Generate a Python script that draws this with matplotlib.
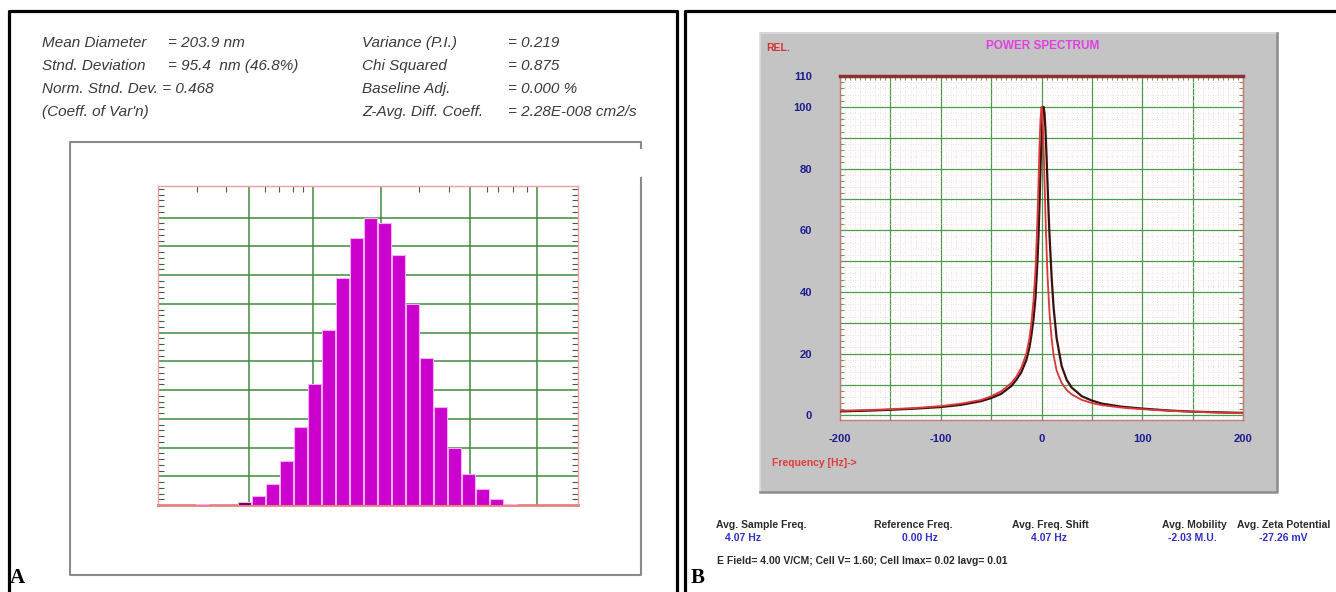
import matplotlib
matplotlib.use("Agg")
import matplotlib.pyplot as plt
from matplotlib.patches import Rectangle
from matplotlib.ticker import FixedLocator, MultipleLocator

W, H = 1336, 592

# --- panel A: summary text
info_left = ["Mean Diameter", "Stnd. Deviation", "Norm. Stnd. Dev. = 0.468", "(Coeff. of Var'n)"]
info_left_vals = ["= 203.9 nm", "= 95.4  nm (46.8%)", "", ""]
info_right = ["Variance (P.I.)", "Chi Squared", "Baseline Adj.", "Z-Avg. Diff. Coeff."]
info_right_vals = ["= 0.219", "= 0.875", "= 0.000 %", "= 2.28E-008 cm2/s"]

# --- panel A: size distribution (bin index, relative intensity)
bins = list(range(-3, 20))
counts = [0.4, 0, 0, 1.0, 3.3, 7.4, 15.2, 27, 42, 61, 79, 93, 100, 98, 87,
          70, 51, 34, 20, 10.7, 5.4, 2.1, 0.5]
hist_grid_x = [0.33, 4.93, 9.76, 16.12, 20.88]
hist_top_ticks = [-3.4, -1.3, 1.5, 2.5, 3.5, 4.2, 12.5, 14.6, 17.3, 18.1, 19.2, 20.2]

# --- panel B: power spectrum (Hz, relative)
freq_red = [-200, -175, -150, -125, -100, -80, -60, -50, -40, -30, -25, -20, -15, -12,
            -10, -8, -6, -5, -4, -3, -2, -1, 0, 1, 2, 3, 4, 5, 6, 8, 10, 12, 15, 20,
            25, 30, 40, 50, 60, 80, 100, 125, 150, 175, 200]
rel_red = [1.5, 1.7, 2.0, 2.4, 3.0, 3.8, 5.0, 6.2, 7.8, 10.5, 12.5, 15.5, 20, 25,
           30, 37, 47, 55, 64, 75, 87, 96, 100, 97, 88, 76, 64, 54, 45, 33, 25, 19.5,
           14.5, 10.5, 8.2, 6.8, 5.0, 4.0, 3.3, 2.5, 2.0, 1.5, 1.2, 0.9, 0.7]
freq_blk = [-200, -175, -150, -125, -100, -80, -60, -50, -40, -30, -25, -20, -15, -12,
            -10, -8, -6, -4, -3, -2, -1, 0, 1, 2, 3, 4, 5, 6, 7, 8, 10, 12, 15, 20,
            25, 30, 40, 50, 60, 80, 100, 125, 150, 175, 200]
rel_blk = [1.3, 1.5, 1.8, 2.2, 2.7, 3.4, 4.6, 5.6, 7.0, 9.5, 11.5, 14, 18, 22,
           26, 31, 38, 50, 58, 68, 80, 90, 97, 100, 98, 92, 84, 75, 66, 58, 45, 35,
           25, 16, 11.5, 9, 6.2, 4.8, 3.8, 2.8, 2.2, 1.6, 1.2, 1.0, 0.8]
x_ticks = [-200, -100, 0, 100, 200]
y_ticks = [0, 20, 40, 60, 80, 100, 110]

footer_labels = ["Avg. Sample Freq.", "Reference Freq.", "Avg. Freq. Shift", "Avg. Mobility", "Avg. Zeta Potential"]
footer_values = ["4.07 Hz", "0.00 Hz", "4.07 Hz", "-2.03 M.U.", "-27.26 mV"]
footer_note = "E Field= 4.00 V/CM; Cell V= 1.60; Cell Imax= 0.02 Iavg= 0.01"

SANS = "Liberation Sans"


def box(x0, y0, x1, y1):
    return [x0 / W, 1 - y1 / H, (x1 - x0) / W, (y1 - y0) / H]


fig = plt.figure(figsize=(W / 100, H / 100), dpi=100)
bg = fig.add_axes([0, 0, 1, 1])
bg.set_xlim(0, W)
bg.set_ylim(H, 0)
bg.axis("off")

# panel borders
bg.plot([9, 9, 677, 677], [H, 11, 11, H], color="black", lw=2.3)
bg.plot([685, 685, W], [H, 11, 11], color="black", lw=2.3)
bg.text(10, 578, "A", family="Liberation Serif", weight="bold", fontsize=15, va="center")
bg.text(691, 578, "B", family="Liberation Serif", weight="bold", fontsize=15, va="center")

# panel A text block
tkw = dict(style="italic", fontsize=11, color="#3a3a3a", family=SANS, va="center")
for i in range(4):
    y = 43 + 23 * i
    bg.text(42, y, info_left[i], **tkw)
    if info_left_vals[i]:
        bg.text(168, y, info_left_vals[i], **tkw)
    bg.text(362, y, info_right[i], **tkw)
    bg.text(508, y, info_right_vals[i], **tkw)

# gray frame around the histogram
fc = "#8a8a8a"
bg.plot([641, 641, 70, 70, 641, 641], [148, 142, 142, 575, 575, 178], color=fc, lw=1.5)

# histogram
ax1 = fig.add_axes(box(158, 186, 578, 505))
ax1.set_xlim(-6.17, 23.83)
ax1.set_ylim(0, 111)
ax1.set_xticks(hist_grid_x)
ax1.set_yticks(range(10, 110, 10))
ax1.grid(True, color="#3d8b3d", lw=1.1)
ax1.set_axisbelow(True)
bar_colors = ["#5a005a" if c < 1.5 else "#cc00cc" for c in counts]
ax1.bar(bins, counts, width=0.92, color=bar_colors, edgecolor="#f7b0f7", linewidth=0.8, zorder=3)
ax1.tick_params(which="major", length=0, labelbottom=False, labelleft=False)
ax1.yaxis.set_minor_locator(MultipleLocator(2))
ax1.xaxis.set_minor_locator(FixedLocator(hist_top_ticks))
ax1.tick_params(which="minor", direction="in", length=4, width=0.8, color="#3f5f3f",
                left=True, right=True, top=True, bottom=False)
for s in ["top", "left", "right"]:
    ax1.spines[s].set_color("#eaa0a0")
    ax1.spines[s].set_linewidth(1)
ax1.spines["bottom"].set_color("#e88080")
ax1.spines["bottom"].set_linewidth(2)

# panel B gray instrument window
bg.add_patch(Rectangle((760, 32), 518, 461, facecolor="#c4c4c4", edgecolor="none"))
bg.plot([760, 760, 1277], [492, 33, 33], color="#dcdcdc", lw=1.2)
bg.plot([760, 1277, 1277], [492, 492, 33], color="#8c8c8c", lw=1.8)
bg.text(1043, 46, "POWER SPECTRUM", color="#e040e0", fontsize=8.5, weight="bold",
        family=SANS, ha="center", va="center")
bg.text(766, 48, "REL.", color="#d83030", fontsize=7.5, weight="bold", family=SANS, va="center")
bg.text(772, 463, "Frequency [Hz]->", color="#e03c3c", fontsize=7.5, weight="bold",
        family=SANS, va="center")

ax2 = fig.add_axes(box(840, 76, 1243, 420))
ax2.set_facecolor("white")
ax2.set_xlim(-200, 200)
ax2.set_ylim(-1.5, 110)
ax2.xaxis.set_major_locator(MultipleLocator(50))
ax2.yaxis.set_major_locator(MultipleLocator(10))
ax2.xaxis.set_minor_locator(MultipleLocator(5))
ax2.yaxis.set_minor_locator(MultipleLocator(2))
ax2.grid(True, which="minor", color="#ead6d6", lw=0.6, ls=(0, (1, 2)))
ax2.grid(True, which="major", color="#4a9a4a", lw=0.9)
ax2.set_axisbelow(True)
ax2.plot(freq_blk, rel_blk, color="#3a1010", lw=1.6, zorder=3)
ax2.plot(freq_red, rel_red, color="#d83838", lw=1.3, zorder=4)
ax2.tick_params(which="major", length=0, labelsize=8, labelcolor="#1c1c90", pad=10)
ax2.tick_params(axis="y", which="major", pad=20)
ax2.tick_params(which="minor", direction="in", length=3, width=0.8, color="#8a8a5a",
                left=True, right=True, top=True, bottom=False)


def lab_x(v, pos):
    return "%d" % v if v in x_ticks else ""


def lab_y(v, pos):
    return "%d" % round(v) if round(v) in y_ticks else ""


ax2.xaxis.set_major_formatter(plt.FuncFormatter(lab_x))
ax2.yaxis.set_major_formatter(plt.FuncFormatter(lab_y))
for t in ax2.get_xticklabels() + ax2.get_yticklabels():
    t.set_fontweight("bold")
    t.set_family(SANS)
ax2.spines["top"].set_color("#8a3030")
ax2.spines["top"].set_linewidth(2.5)
for s in ["left", "bottom", "right"]:
    ax2.spines[s].set_color("#c87878")
    ax2.spines[s].set_linewidth(1)

# footer of panel B
lx = [761, 913, 1050, 1194, 1284]
vx = [743, 920, 1049, 1192, 1283]
for i in range(5):
    bg.text(lx[i], 525, footer_labels[i], fontsize=7.5, weight="bold", color="#2a2a2a",
            family=SANS, ha="center", va="center")
    bg.text(vx[i], 538, footer_values[i], fontsize=7.5, weight="bold", color="#3030c8",
            family=SANS, ha="center", va="center")
bg.text(717, 561, footer_note, fontsize=7.5, weight="bold", color="#2a2a2a",
        family=SANS, va="center")

fig.savefig("out.png", dpi=100)
